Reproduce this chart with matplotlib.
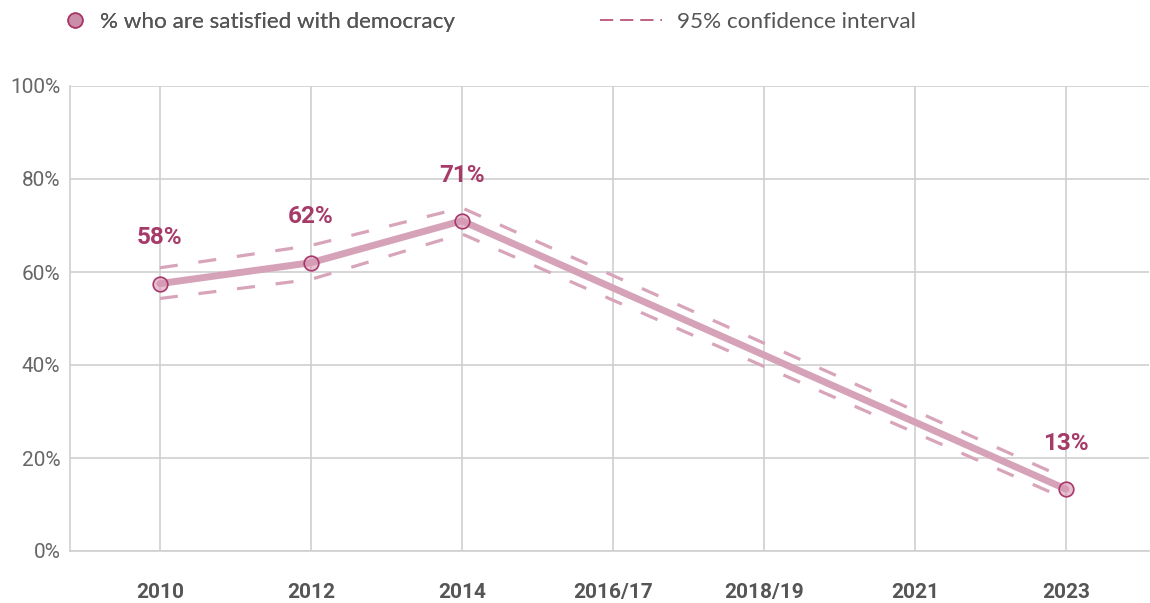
import matplotlib
matplotlib.use("Agg")
import matplotlib.pyplot as plt
from matplotlib.lines import Line2D
import numpy as np

plt.rcParams['lines.scale_dashes'] = False

categories = ["2010", "2012", "2014", "2016/17", "2018/19", "2021", "2023"]
values = [57.5, 62.0, 71.0, None, None, None, 13.3]
ci_upper = [60.9, 65.7, 73.8, None, None, None, 15.6]
ci_lower = [54.3, 58.4, 68.2, None, None, None, 11.2]
labels = ["58%", "62%", "71%", None, None, None, "13%"]
yticks = [0, 20, 40, 60, 80, 100]
ytick_labels = ["0%", "20%", "40%", "60%", "80%", "100%"]
legend_labels = ["% who are satisfied with democracy", "95% confidence interval"]

line_col = "#d5a2b8"
mark_edge = "#a8386a"
mark_face = "#cb8ea8"
label_col = "#a63a68"
dash_col = "#d8a4ba"
grid_col = "#cfcfcf"

fig = plt.figure(figsize=(11.5, 6.03), dpi=100)
ax = fig.add_axes([70/1150, 1-551/603, (1149-70)/1150, (551-86)/603])

x = np.arange(len(categories))
idx = [i for i, v in enumerate(values) if v is not None]
xv = x[idx]
yv = [values[i] for i in idx]
yu = [ci_upper[i] for i in idx]
yl = [ci_lower[i] for i in idx]

ax.plot(xv, yu, color=dash_col, lw=2.3, dashes=(13, 15), zorder=3, dash_capstyle='butt')
ax.plot(xv, yl, color=dash_col, lw=2.3, dashes=(13, 15), zorder=3, dash_capstyle='butt')
ax.plot(xv, yv, color=line_col, lw=5, zorder=4, solid_capstyle='round', solid_joinstyle='round')
ax.plot(xv, yv, linestyle='none', marker='o', markersize=10.5,
        markerfacecolor=(0.85, 0.6, 0.7, 0.6), markeredgecolor=mark_edge, markeredgewidth=1.2, zorder=5)

for i in idx:
    ax.annotate(labels[i], (x[i], values[i]), xytext=(0, 33), textcoords='offset points',
                ha='center', va='center', fontsize=17.5, fontweight='bold', color=label_col,
                family='Roboto', zorder=6)

ax.set_xlim(-0.595, 6.55)
ax.set_ylim(0, 100)
ax.set_xticks(x)
ax.set_xticklabels(categories, fontsize=15, fontweight='bold', color='#555555', family='Roboto')
ax.set_yticks(yticks)
ax.set_yticklabels(ytick_labels, fontsize=15, color='#666666', family='Roboto')
ax.tick_params(axis='both', length=0)
ax.tick_params(axis='x', pad=23)
ax.tick_params(axis='y', pad=7)
ax.grid(True, color=grid_col, lw=1.2, zorder=0)
for s in ['top', 'right']:
    ax.spines[s].set_visible(False)
for s in ['left', 'bottom']:
    ax.spines[s].set_color(grid_col)
    ax.spines[s].set_linewidth(1.2)
ax.set_axisbelow(True)

h1 = Line2D([], [], linestyle='none', marker='o', markersize=10.5,
            markerfacecolor=mark_face, markeredgecolor=mark_edge, markeredgewidth=1.2)
h2 = Line2D([], [], color="#b5446f", lw=1.2, dashes=(9.5, 5))

fs = 16.2
px = fs * 100 / 72
leg1 = fig.legend([h1], [legend_labels[0]], loc='center left',
                  bbox_to_anchor=((75 - px / 2) / 1150, 1 - 22 / 603),
                  frameon=False, handlelength=1.0, handletextpad=(100 - 75 - px / 2) / px,
                  borderpad=0, borderaxespad=0, prop={'family': 'Lato', 'size': fs})
for t in leg1.get_texts():
    t.set_color('#555555')
leg2 = fig.legend([h2], [legend_labels[1]], loc='center left', bbox_to_anchor=(600 / 1150, 1 - 22 / 603),
                  frameon=False, handlelength=62 / px, handletextpad=15 / px,
                  borderpad=0, borderaxespad=0, prop={'family': 'Lato', 'size': fs})
for t in leg2.get_texts():
    t.set_color('#555555')
fig.add_artist(leg1)

fig.savefig("out.png", dpi=100)
